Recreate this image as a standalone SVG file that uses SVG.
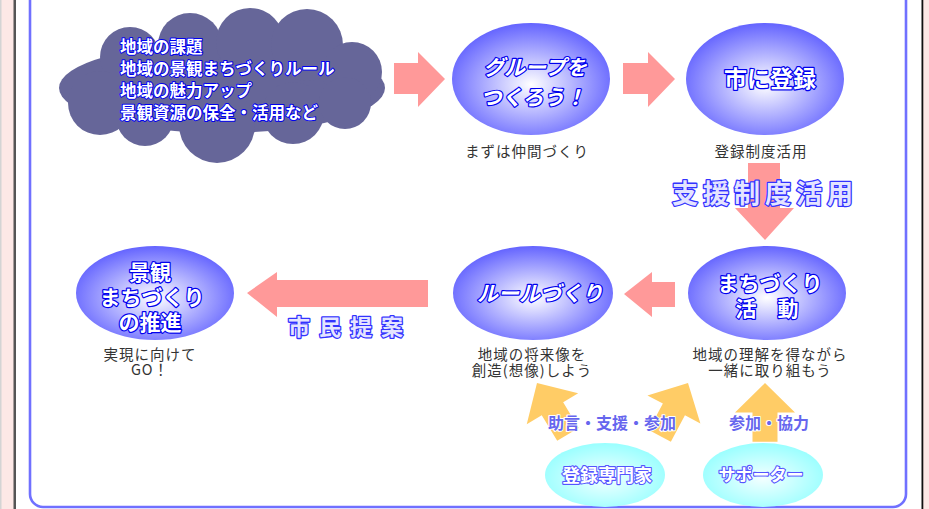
<svg xmlns="http://www.w3.org/2000/svg" width="929" height="509" viewBox="0 0 929 509">
<defs>
<radialGradient id="gBlue" cx="50%" cy="55%" r="55%">
<stop offset="0%" stop-color="#ffffff"/>
<stop offset="100%" stop-color="#6464ff"/>
</radialGradient>
<radialGradient id="gCyan" cx="50%" cy="55%" r="55%">
<stop offset="0%" stop-color="#f4ffff"/>
<stop offset="100%" stop-color="#99ffff"/>
</radialGradient>
<path id="oarr" d="M0,0 L30,30 L12.5,30 L12.5,60 L-12.5,60 L-12.5,30 L-30,30 Z"/>
</defs>
<style>
text{font-family:"Noto Sans CJK JP","Noto Sans",sans-serif;}
.pk{fill:#ff9999;}
.or{fill:#ffcc66;}
.ot{fill:#ffffff;stroke:#0000ee;stroke-width:2.4;paint-order:stroke;font-weight:bold;stroke-linejoin:round;}
.big{fill:#e4e4ff;stroke:#3333ff;stroke-width:2.6;paint-order:stroke;font-weight:bold;stroke-linejoin:round;}
.sub{fill:#6666ee;stroke:#ffffff;stroke-width:2;paint-order:stroke;font-weight:bold;stroke-linejoin:round;font-size:16px;}
.cy{fill:#ffffff;stroke:#5555ff;stroke-width:2.2;paint-order:stroke;font-weight:bold;stroke-linejoin:round;}
.lb{fill:#333333;font-size:14.5px;letter-spacing:1px;}
</style>
<rect width="929" height="509" fill="#ffffff"/>
<rect x="0" y="0" width="14" height="509" fill="#fde8e6"/>
<rect x="0" y="0" width="1.5" height="509" fill="#d4d4d4"/>
<rect x="13.5" y="0" width="2.5" height="509" fill="#555555"/>
<rect x="923" y="0" width="6" height="509" fill="#fde8e6"/>
<rect x="921.5" y="0" width="1.8" height="509" fill="#111111"/>
<rect x="30" y="-30" width="876" height="537" rx="13" fill="#ffffff" stroke="#7070ff" stroke-width="2.6"/>

<g id="connectors">
<polygon class="pk" points="394,63 418,63 418,52 445,79 418,107 418,94 394,94"/>
<polygon class="pk" points="623,63 648,63 648,52 675,79 648,107 648,94 623,94"/>
<polygon class="pk" points="748,163 780,163 780,208 794,208 765,240 735,208 748,208"/>
<polygon class="pk" points="675,282 652,282 652,272 624,294 652,317 652,307 675,307"/>
<polygon class="pk" points="428,280 277,280 277,272 247,293 277,317 277,307 428,307"/>
<use href="#oarr" class="or" transform="translate(537,383) rotate(-31)"/>
<use href="#oarr" class="or" transform="translate(688,383) rotate(28)"/>
<use href="#oarr" class="or" transform="translate(765,383) scale(1,0.98)"/>
<text class="big" x="765" y="203" text-anchor="middle" font-size="26" letter-spacing="5">支援制度活用</text>
<text class="big" x="350" y="335" text-anchor="middle" font-size="22" letter-spacing="9">市民提案</text>
<text class="sub" x="612" y="429" text-anchor="middle">助言・支援・参加</text>
<text class="sub" x="769" y="429" text-anchor="middle">参加・協力</text>
</g>

<g id="cloud">
<g fill="#666699">
<ellipse cx="222" cy="88" rx="163" ry="45"/>
<circle cx="190" cy="45" r="32"/>
<circle cx="250" cy="42" r="34"/>
<circle cx="307" cy="45" r="36"/>
<circle cx="130" cy="57" r="30"/>
<circle cx="352" cy="72" r="30"/>
<circle cx="217" cy="125" r="38"/>
<circle cx="293" cy="113" r="31"/>
<circle cx="145" cy="117" r="29"/>
<circle cx="100" cy="103" r="32"/>
<circle cx="345" cy="103" r="26"/>
</g>
<text class="ot" font-size="16.5" style="stroke-width:2"><tspan x="120" y="53">地域の課題</tspan><tspan x="120" y="75">地域の景観まちづくりルール</tspan><tspan x="120" y="97">地域の魅力アップ</tspan><tspan x="120" y="119">景観資源の保全・活用など</tspan></text>
</g>

<g id="group">
<ellipse cx="531" cy="79" rx="79" ry="56" fill="url(#gBlue)"/>
<text class="ot" text-anchor="middle" font-size="21" font-style="italic"><tspan x="535" y="75">グループを</tspan><tspan x="533" y="105">つくろう！</tspan></text>
<text class="lb" x="527" y="157" text-anchor="middle">まずは仲間づくり</text>
</g>

<g id="register">
<ellipse cx="765" cy="79" rx="79" ry="56" fill="url(#gBlue)"/>
<text class="ot" x="770" y="87" text-anchor="middle" font-size="23">市に登録</text>
<text class="lb" x="761" y="157" text-anchor="middle">登録制度活用</text>
</g>

<g id="activity">
<ellipse cx="767" cy="293" rx="79" ry="47" fill="url(#gBlue)"/>
<text class="ot" text-anchor="middle" font-size="21" xml:space="preserve"><tspan x="770" y="291">まちづくり</tspan><tspan x="767" y="316">活　動</tspan></text>
<text class="lb" text-anchor="middle"><tspan x="770" y="360">地域の理解を得ながら</tspan><tspan x="770" y="376">一緒に取り組もう</tspan></text>
</g>

<g id="rules">
<ellipse cx="533" cy="293" rx="80" ry="47" fill="url(#gBlue)"/>
<text class="ot" x="540" y="301" text-anchor="middle" font-size="21" font-style="italic">ルールづくり</text>
<text class="lb" text-anchor="middle"><tspan x="532" y="360">地域の将来像を</tspan><tspan x="532" y="376">創造(想像)しよう</tspan></text>
</g>

<g id="promotion">
<ellipse cx="155" cy="293" rx="79" ry="47" fill="url(#gBlue)"/>
<text class="ot" text-anchor="middle" font-size="21"><tspan x="150" y="280">景観</tspan><tspan x="152" y="305">まちづくり</tspan><tspan x="150" y="330">の推進</tspan></text>
<text class="lb" text-anchor="middle"><tspan x="150" y="360">実現に向けて</tspan><tspan x="150" y="375">GO！</tspan></text>
</g>

<g id="experts">
<ellipse cx="605" cy="475" rx="60" ry="32" fill="url(#gCyan)"/>
<text class="cy" x="607" y="482" text-anchor="middle" font-size="18">登録専門家</text>
</g>

<g id="supporters">
<ellipse cx="763" cy="475" rx="60" ry="32" fill="url(#gCyan)"/>
<text class="cy" x="761" y="481" text-anchor="middle" font-size="17">サポーター</text>
</g>
</svg>
